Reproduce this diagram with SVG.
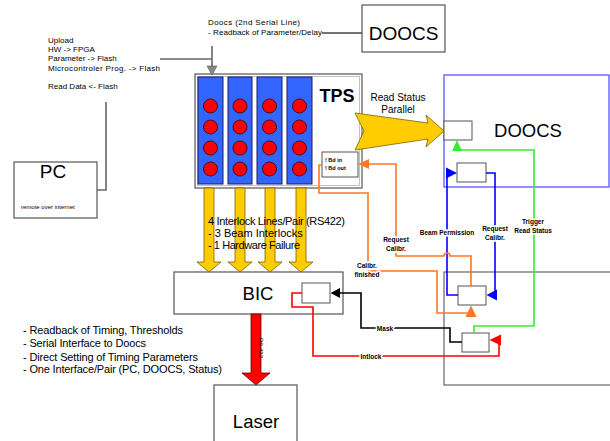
<svg xmlns="http://www.w3.org/2000/svg" width="610" height="441" viewBox="0 0 610 441">
<style>
text{font-family:"Liberation Sans",Arial,sans-serif;fill:#000}
.box{fill:#fff;stroke:#555;stroke-width:1.2}
.sbox{fill:#fff;stroke:#555;stroke-width:1}
.col{fill:#3366ff;stroke:#1a1a66;stroke-width:1}
.dot{fill:#ff0000;stroke:#330000;stroke-width:0.8}
.yel{fill:#ffcc00;stroke:#7a6000;stroke-width:0.8}
.ln{fill:none;stroke-width:1.6;stroke-linejoin:miter}
.lbl{font-size:6.5px;text-anchor:middle;stroke:#fff;stroke-width:3;paint-order:stroke;font-weight:bold}
.t8{font-size:8px}
</style>
<g id="tps">
<rect x="195" y="74" width="167" height="114" class="box" stroke-width="1.6"/>
<rect x="197.5" y="76.5" width="162" height="109" fill="none" stroke="#999" stroke-width="0.6"/>
<rect x="198" y="77" width="25" height="107" class="col"/>
<rect x="228" y="77" width="24" height="107" class="col"/>
<rect x="257" y="77" width="25" height="107" class="col"/>
<rect x="287" y="77" width="25" height="107" class="col"/>
<g>
<circle cx="210.5" cy="106" r="7" class="dot"/><circle cx="210.5" cy="127" r="7" class="dot"/><circle cx="210.5" cy="148" r="7" class="dot"/><circle cx="210.5" cy="169" r="7" class="dot"/>
<circle cx="240" cy="106" r="7" class="dot"/><circle cx="240" cy="127" r="7" class="dot"/><circle cx="240" cy="148" r="7" class="dot"/><circle cx="240" cy="169" r="7" class="dot"/>
<circle cx="269.5" cy="106" r="7" class="dot"/><circle cx="269.5" cy="127" r="7" class="dot"/><circle cx="269.5" cy="148" r="7" class="dot"/><circle cx="269.5" cy="169" r="7" class="dot"/>
<circle cx="299.5" cy="106" r="7" class="dot"/><circle cx="299.5" cy="127" r="7" class="dot"/><circle cx="299.5" cy="148" r="7" class="dot"/><circle cx="299.5" cy="169" r="7" class="dot"/>
</g>
<text x="337" y="102" font-size="18" font-weight="bold" text-anchor="middle">TPS</text>
<rect x="322" y="152" width="36" height="25" class="sbox"/>
<text x="325" y="162" font-size="5.5" font-weight="bold">! Bd in</text>
<text x="325" y="170" font-size="5.5" font-weight="bold">! Bd out</text>
</g>
<g id="doocs-top">
<rect x="362" y="5" width="83" height="47" class="box"/>
<text x="403.5" y="40" font-size="19" text-anchor="middle">DOOCS</text>
</g>
<g id="pc">
<rect x="14" y="162" width="83" height="56" class="box"/>
<text x="53" y="178" font-size="19" text-anchor="middle">PC</text>
<text x="21" y="209" font-size="6">remote over internet</text>
</g>
<g id="doocs-right">
<rect x="444" y="75" width="165" height="112" fill="#fff" stroke="#4a4aff" stroke-width="1.2"/>
<text x="528" y="137" font-size="18.5" text-anchor="middle">DOOCS</text>
<rect x="444" y="121" width="28" height="19" class="sbox"/>
<rect x="457" y="163" width="29" height="19" class="sbox"/>
</g>
<g id="bic">
<rect x="174" y="272" width="169" height="42" class="box"/>
<text x="258" y="300" font-size="18.5" text-anchor="middle">BIC</text>
<rect x="302" y="283" width="28" height="20" class="sbox"/>
</g>
<g id="bis">
<rect x="444" y="272" width="170" height="113" fill="#fff" stroke="#666" stroke-width="1.2"/>
<rect x="458" y="286" width="28" height="19" class="sbox"/>
<rect x="462" y="333" width="27" height="19" class="sbox"/>
</g>
<g id="laser">
<rect x="214" y="385" width="83" height="62" class="box"/>
<text x="256" y="428" font-size="18.5" text-anchor="middle">Laser</text>
</g>
<g id="connectors">
<path d="M160,59 H212 M212,46 V67" class="ln" stroke="#666" stroke-width="1.3"/>
<polygon points="207,66 217,66 212,75" fill="#888" stroke="#555" stroke-width="0.6"/>
<path d="M322,33 H362" class="ln" stroke="#444" stroke-width="1.2"/>
<path d="M97,190 H106 V102" class="ln" stroke="#666" stroke-width="1.3"/>
<g>
<polygon points="204,188 214,188 214,262 221,262 209,272 197,262 204,262" class="yel"/>
<polygon points="235,188 245,188 245,262 252,262 240,272 228,262 235,262" class="yel"/>
<polygon points="265,188 275,188 275,262 282,262 270,272 258,262 265,262" class="yel"/>
<polygon points="296,188 306,188 306,262 313,262 301,272 289,262 296,262" class="yel"/>
</g>
<polygon points="355,113 428,123 426,115 444,131 426,147 428,139 355,150 364,131" class="yel"/>
<polygon points="251,314 261,314 261,373 270,373 256,385 242,373 251,373" fill="#ff0000" stroke="#660000" stroke-width="0.8"/>
<text transform="translate(258.5,348) rotate(90)" font-size="6" text-anchor="middle" fill="#330000">RS 422</text>
<path d="M474,333 V326 H534 V150 H457 V150" class="ln" stroke="#33ee33"/>
<polygon points="457,140 452,151 462,151" fill="#33ee33"/>
<path d="M458,295 H447 V173 H449" class="ln" stroke="#0000ff"/>
<polygon points="457,173 446,167.5 446,178.5" fill="#0000ff"/>
<path d="M486,173 H495 V295 H494" class="ln" stroke="#0000ff"/>
<polygon points="486.5,295 497,289.5 497,300.5" fill="#0000ff"/>
<path d="M471,286 V256 H450 A3,3 0 0 0 444,256 H396 V164 H366" class="ln" stroke="#ff7722"/>
<polygon points="358,164 369,159 369,169" fill="#ff7722"/>
<path d="M322,165 H319 V193 H368 V271 H437 V313 H471 V316" class="ln" stroke="#ff7722"/>
<polygon points="471,305.5 465.5,317 476.5,317" fill="#ff7722"/>
<path d="M340,293 H361 V328 H450 V342 H462" class="ln" stroke="#000"/>
<polygon points="330.5,293 340,288 340,298" fill="#000"/>
<path d="M302,293 H292 V307 H313 V356 H499 V340 H500" class="ln" stroke="#ff0000"/>
<polygon points="489.5,340 501,334.5 501,345.5" fill="#ff0000"/>
<text class="lbl" x="533" y="224">Trigger</text>
<text class="lbl" x="533" y="233">Read Status</text>
<text class="lbl" x="447" y="235">Beam Permission</text>
<text class="lbl" x="495" y="231">Request</text>
<text class="lbl" x="495" y="240">Calibr.</text>
<text class="lbl" x="396" y="242">Request</text>
<text class="lbl" x="396" y="251">Calibr.</text>
<text class="lbl" x="367" y="268">Calibr.</text>
<text class="lbl" x="367" y="277">finished</text>
<text class="lbl" x="385" y="330.5" font-size="5.5">Mask</text>
<text class="lbl" x="371" y="358.5" font-size="5.5">Intlock</text>
</g>
<g id="texts">
<text class="t8" x="48" y="43">Upload</text>
<text class="t8" x="48" y="51.5">HW -&gt; FPGA</text>
<text class="t8" x="48" y="61">Parameter -&gt; Flash</text>
<text class="t8" x="48" y="71" textLength="112">Microcontroler Prog. -&gt; Flash</text>
<text class="t8" x="48" y="89">Read Data &lt;- Flash</text>
<text class="t8" x="208" y="25" textLength="92">Doocs (2nd Serial Line)</text>
<text class="t8" x="208" y="35" textLength="114">- Readback of Parameter/Delay</text>
<text x="208" y="225" font-size="11" textLength="137">4 Interlock Lines/Pair (RS422)</text>
<text x="208" y="237" font-size="11">- 3 Beam Interlocks</text>
<text x="208" y="248.5" font-size="11" textLength="92">- 1 Hardware Failure</text>
<text x="23" y="334" font-size="11" textLength="160">- Readback of Timing, Thresholds</text>
<text x="23" y="347" font-size="11" textLength="123">- Serial Interface to Doocs</text>
<text x="23" y="361" font-size="11" textLength="175">- Direct Setting of Timing Parameters</text>
<text x="23" y="373" font-size="11" textLength="199">- One Interface/Pair (PC, DOOCS, Status)</text>
<text x="398" y="101" font-size="10" text-anchor="middle">Read Status</text>
<text x="398" y="113" font-size="10" text-anchor="middle">Parallel</text>
</g>
</svg>
